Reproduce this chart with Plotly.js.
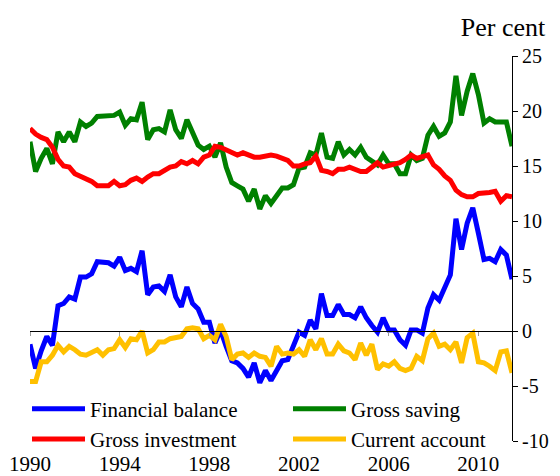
<!DOCTYPE html>
<html>
<head>
<meta charset="utf-8">
<script src="https://cdn.plot.ly/plotly-3.0.1.min.js"></script>
<style>html,body{margin:0;padding:0;background:#fff;}#chart{width:560px;height:476px;}</style>
</head>
<body>
<div id="chart"></div>
<script>
// Quarterly, 1990 Q1 to 2011 Q3
const startYear = 1990;
const nQuarters = 87;
const quarters = Array.from({length: nQuarters}, (_, i) => startYear + i / 4);

const financialBalance = [
  -1.2,-3.4,-1.8,-0.5,-1.3,2.3,2.5,3.1,2.9,4.9,
  4.9,5.2,6.3,6.2,6.2,5.9,6.7,5.5,5.7,5.4,
  7.3,3.3,4.0,4.1,3.6,5.1,3.1,2.2,4.0,2.5,
  2.0,0.8,0.8,-1.1,0.1,-1.4,-2.7,-2.9,-3.4,-4.2,
  -2.9,-4.7,-3.6,-4.5,-3.7,-2.7,-2.6,-1.4,-0.1,-0.4,
  1.0,0.2,3.4,1.4,1.4,2.4,1.5,1.5,1.2,2.2,
  1.2,0.5,-0.1,1.2,0.1,0.1,-0.8,-1.3,0.1,0.1,
  -0.2,2.1,3.3,2.8,3.9,5.1,10.2,7.4,9.8,11.2,
  8.9,6.5,6.6,6.3,7.4,6.9,4.7
];
const grossSaving = [
  17.2,14.5,15.7,16.6,15.2,18.1,17.2,18.1,17.2,19.0,
  18.6,18.9,19.5,19.5,19.5,19.6,19.9,18.7,19.3,19.2,
  20.8,17.4,18.3,18.4,18.1,20.1,18.3,17.5,19.2,18.0,
  16.9,16.5,16.8,15.8,17.1,14.9,13.5,13.2,12.9,11.8,
  12.9,11.1,12.3,11.6,12.3,13.0,13.0,13.3,14.8,14.9,
  16.2,16.0,18.0,15.8,15.7,17.2,16.0,16.5,16.0,16.7,
  15.8,15.4,15.1,16.0,15.2,15.2,14.3,14.3,16.0,15.5,
  15.7,17.8,18.6,17.7,18.0,19.0,23.2,19.6,21.8,23.4,
  21.5,18.9,19.3,19.0,19.0,19.0,16.8
];
const grossInvestment = [
  18.4,17.9,17.6,17.4,16.7,15.6,15.0,14.9,14.3,14.1,
  13.8,13.6,13.2,13.2,13.2,13.6,13.2,13.3,13.7,13.9,
  13.6,14.0,14.3,14.3,14.6,14.9,15.0,15.4,15.2,15.5,
  15.2,15.8,16.0,16.8,16.7,16.5,16.3,16.0,16.2,16.0,
  15.8,15.8,15.9,16.0,15.9,15.7,15.5,15.0,15.0,15.2,
  15.3,15.9,14.6,14.5,14.3,14.7,14.7,14.9,14.7,14.5,
  14.5,14.9,15.3,14.9,15.0,15.1,15.3,15.6,16.0,15.7,
  15.9,16.0,15.1,14.7,14.1,13.7,12.8,12.4,12.2,12.2,
  12.5,12.5,12.6,12.7,11.8,12.3,12.2
];
const currentAccount = [
  -4.6,-4.6,-2.8,-2.8,-2.2,-1.3,-1.9,-1.4,-1.7,-2.1,
  -2.2,-2.0,-1.7,-2.2,-1.7,-1.6,-0.8,-1.5,-0.7,-0.8,
  0.0,-2.0,-1.7,-1.0,-1.0,-0.7,-0.6,-0.5,0.2,0.3,
  0.2,-0.7,-0.4,-0.8,0.6,-0.5,-2.6,-2.1,-2.0,-2.4,
  -2.0,-2.3,-2.4,-3.2,-1.4,-2.1,-2.0,-2.1,-1.7,-2.3,
  -0.8,-1.7,-0.7,-2.1,-2.1,-1.2,-1.8,-2.0,-2.6,-1.1,
  -2.2,-1.2,-3.5,-3.0,-3.2,-2.8,-3.4,-3.6,-3.4,-2.3,
  -2.7,-0.7,-0.2,-1.4,-1.2,-1.7,-1.0,-2.9,-0.6,-0.2,
  -2.8,-2.9,-3.2,-3.6,-1.9,-1.8,-3.8
];

const seriesNames = ["Financial balance", "Gross saving", "Gross investment", "Current account"];
const seriesColors = ["#0000ff", "#008000", "#ff0000", "#ffc000"];
const seriesValues = [financialBalance, grossSaving, grossInvestment, currentAccount];
const seriesLegend = ["legend", "legend2", "legend", "legend2"];

const yearTicks = [1990, 1994, 1998, 2002, 2006, 2010];
const yearLabels = ["1990", "1994", "1998", "2002", "2006", "2010"];
const yTicks = [-10, -5, 0, 5, 10, 15, 20, 25];
const yLabels = ["-10", "-5", "0", "5", "10", "15", "20", "25"];

const FONT = "Liberation Serif, Times New Roman, serif";

const traces = seriesNames.map((name, k) => ({
  type: "scatter",
  mode: "lines",
  name: name,
  x: quarters,
  y: seriesValues[k],
  legend: seriesLegend[k],
  line: {color: seriesColors[k], width: 5},
  hoverinfo: "skip"
}));

const yMin = -10, yMax = 25;
const zeroPos = (0 - yMin) / (yMax - yMin);

const legendCommon = {
  orientation: "v",
  xanchor: "left",
  y: 0.136, yanchor: "top",
  bgcolor: "rgba(0,0,0,0)",
  borderwidth: 0,
  font: {family: FONT, size: 21, color: "#000000"},
  itemwidth: 53,
  tracegroupgap: 0,
  traceorder: "normal"
};

const layout = {
  width: 560,
  height: 476,
  margin: {l: 30, r: 48, t: 56, b: 35, pad: 0, autoexpand: false},
  paper_bgcolor: "#ffffff",
  plot_bgcolor: "#ffffff",
  font: {family: FONT, size: 20, color: "#000000"},
  showlegend: true,
  title: {
    text: "Per cent",
    font: {family: FONT, size: 26, color: "#000000"},
    xref: "container", yref: "container",
    x: 503 / 560, xanchor: "center",
    y: 1 - 27 / 476, yanchor: "middle"
  },
  xaxis: {
    range: [1990, 2011.5],
    anchor: "free",
    position: zeroPos,
    showline: true, linecolor: "#000000", linewidth: 1,
    ticks: "outside", ticklen: 4, tickwidth: 1, tickcolor: "#999999",
    tickmode: "array", tickvals: yearTicks, ticktext: yearLabels,
    tickfont: {family: FONT, size: 21, color: "#000000"},
    ticklabelstandoff: 110,
    showgrid: false, zeroline: false,
    fixedrange: true
  },
  yaxis: {
    range: [yMin, yMax],
    side: "right",
    anchor: "x",
    showline: true, linecolor: "#000000", linewidth: 1,
    ticks: "outside", ticklen: 5, tickwidth: 1, tickcolor: "#000000",
    tickmode: "array", tickvals: yTicks, ticktext: yLabels,
    tickfont: {family: FONT, size: 20, color: "#000000"},
    showgrid: false, zeroline: false,
    fixedrange: true
  },
  legend: Object.assign({}, legendCommon, {x: -3 / 482}),
  legend2: Object.assign({}, legendCommon, {x: 258 / 482})
};

Plotly.newPlot("chart", traces, layout, {displayModeBar: false, staticPlot: true});
</script>
</body>
</html>
